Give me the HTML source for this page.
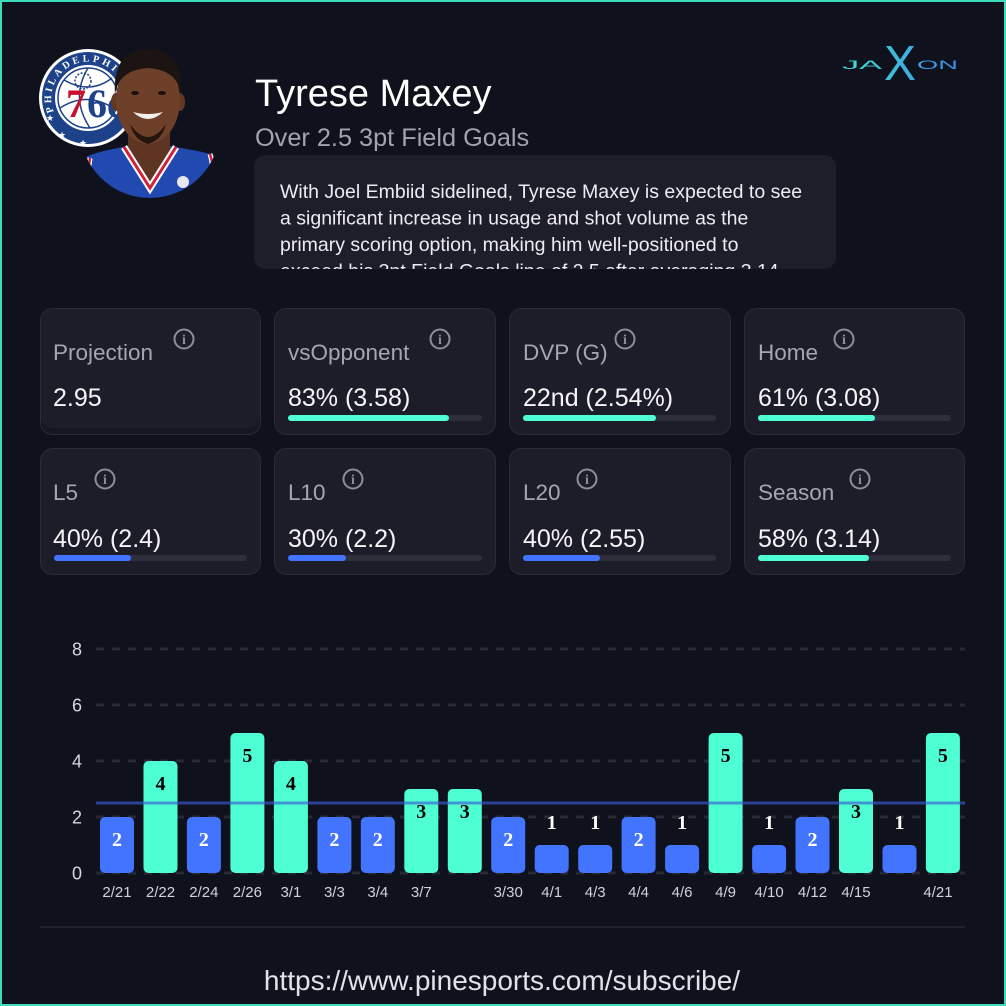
<!DOCTYPE html>
<html>
<head>
<meta charset="utf-8">
<style>
  html,body{margin:0;padding:0;background:#0f111d;}
  svg{display:block;}
  text{font-family:"Liberation Sans",Arial,sans-serif;}
  .serif text, text.serif{font-family:"Liberation Serif","Times New Roman",serif;}
</style>
</head>
<body>
<svg width="1006" height="1006" viewBox="0 0 1006 1006" xmlns="http://www.w3.org/2000/svg">
  <defs>
    <linearGradient id="jx" x1="842" y1="0" x2="960" y2="0" gradientUnits="userSpaceOnUse">
      <stop offset="0" stop-color="#42e2d2"/>
      <stop offset="1" stop-color="#3a88e8"/>
    </linearGradient>
    <clipPath id="pc"><circle cx="150" cy="128" r="70"/></clipPath>
    <clipPath id="dc"><rect x="254" y="155" width="582" height="114" rx="12"/></clipPath>
    <path id="arc" d="M 53.7,111.9 A 37,37 0 0,1 121.5,82.4"/>
  </defs>

  <!-- background + border -->
  <rect x="0" y="0" width="1006" height="1006" fill="#0f111d"/>
  <rect x="1" y="1" width="1004" height="1004" fill="none" stroke="#3fdcbc" stroke-width="2"/>

  <!-- team logo -->
  <circle cx="88" cy="98" r="49" fill="#ffffff"/>
  <circle cx="88" cy="98" r="46" fill="#1d428a"/>
  <circle cx="88" cy="98" r="33" fill="#ffffff"/>
  <circle cx="88" cy="98" r="30" fill="none" stroke="#1d428a" stroke-width="1.5"/>
  <path d="M64,80 Q90,95 112,78 M60,108 Q88,90 116,110 M88,68 Q70,98 90,128" fill="none" stroke="#1d428a" stroke-width="1.5"/>
  <circle cx="83" cy="81" r="8" fill="none" stroke="#1d428a" stroke-width="1.5" stroke-dasharray="2 1.5"/>
  <text class="serif" font-size="10" font-weight="bold" fill="#ffffff" textLength="110" lengthAdjust="spacing"><textPath href="#arc">PHILADELPHIA</textPath></text>
  <text x="46" y="121" font-size="9" fill="#fff">★</text>
  <text x="58" y="138" font-size="9" fill="#fff">★</text>
  <text x="79" y="146" font-size="9" fill="#fff">★</text>
  <text class="serif" x="66" y="117" font-size="40" font-weight="bold" fill="#c8102e">7</text>
  <text class="serif" x="87" y="117" font-size="40" font-weight="bold" fill="#1d428a">6e</text>

  <!-- player -->
  <g clip-path="url(#pc)">
    <path d="M60,230 L60,172 Q80,156 108,150 L128,146 L170,146 L192,150 Q214,153 236,166 L236,230 Z" fill="#2149b0"/>
    <path d="M128,128 L128,150 L150,186 L170,150 L170,128 Z" fill="#5e3422"/>
    <polyline points="124,147 150,188 176,147" fill="none" stroke="#ffffff" stroke-width="7"/>
    <polyline points="124,147 150,188 176,147" fill="none" stroke="#d0213a" stroke-width="3"/>
    <path d="M90,158 Q86,180 92,205" fill="none" stroke="#ffffff" stroke-width="5"/>
    <path d="M90,158 Q86,180 92,205" fill="none" stroke="#d0213a" stroke-width="2.5"/>
    <path d="M210,154 Q216,172 208,192" fill="none" stroke="#ffffff" stroke-width="5"/>
    <path d="M210,154 Q216,172 208,192" fill="none" stroke="#d0213a" stroke-width="2.5"/>
    <circle cx="183" cy="182" r="6" fill="#e8e8f0"/>
  </g>
  <ellipse cx="116" cy="102" rx="5" ry="9" fill="#643824"/>
  <ellipse cx="180" cy="102" rx="5" ry="9" fill="#643824"/>
  <ellipse cx="148" cy="100" rx="32" ry="44" fill="#6e4029"/>
  <path d="M115,95 Q112,50 148,49 Q184,50 181,95 Q178,70 148,68 Q118,70 115,95 Z" fill="#1b1412"/>
  <ellipse cx="135" cy="93" rx="4" ry="2" fill="#1a0f0a"/>
  <ellipse cx="162" cy="93" rx="4" ry="2" fill="#1a0f0a"/>
  <path d="M133,112 Q148,126 163,112 Q148,116 133,112 Z" fill="#f4f0ec"/>
  <path d="M130,124 Q148,150 166,124 Q162,140 148,144 Q134,140 130,124 Z" fill="#24160f"/>

  <!-- JAXON logo -->
  <text x="842" y="69" font-size="11.5" fill="url(#jx)" textLength="40" lengthAdjust="spacingAndGlyphs">JA</text>
  <text x="884" y="80" font-size="49" fill="url(#jx)" textLength="32" lengthAdjust="spacingAndGlyphs">X</text>
  <text x="917" y="69" font-size="11.5" fill="url(#jx)" textLength="41" lengthAdjust="spacingAndGlyphs">ON</text>

  <!-- title -->
  <text x="255" y="106" font-size="38" fill="#ffffff">Tyrese Maxey</text>
  <text x="255" y="146" font-size="25.3" fill="#a3a3ad">Over 2.5 3pt Field Goals</text>

  <!-- description -->
  <rect x="254" y="155" width="582" height="114" rx="12" fill="#1e1e2a"/>
  <g clip-path="url(#dc)" font-size="19.5" fill="#ececf2">
    <text x="280" y="198">With Joel Embiid sidelined, Tyrese Maxey is expected to see</text>
    <text x="280" y="224.5">a significant increase in usage and shot volume as the</text>
    <text x="280" y="251">primary scoring option, making him well-positioned to</text>
    <text x="280" y="277.5">exceed his 3pt Field Goals line of 2.5 after averaging 3.14</text>
  </g>

  <!-- cards row 1 -->
  <rect x="40.5" y="308.5" width="220" height="126" rx="12" fill="#161722" stroke="#2a2a38"/>
  <rect x="41" y="309" width="219" height="119" rx="11" fill="#1d1d29"/>
  <rect x="274.5" y="308.5" width="221" height="126" rx="12" fill="#1d1d29" stroke="#2a2a38"/>
  <rect x="509.5" y="308.5" width="221" height="126" rx="12" fill="#1d1d29" stroke="#2a2a38"/>
  <rect x="744.5" y="308.5" width="220" height="126" rx="12" fill="#1d1d29" stroke="#2a2a38"/>
  <!-- cards row 2 -->
  <rect x="40.5" y="448.5" width="220" height="126" rx="12" fill="#1d1d29" stroke="#2a2a38"/>
  <rect x="274.5" y="448.5" width="221" height="126" rx="12" fill="#1d1d29" stroke="#2a2a38"/>
  <rect x="509.5" y="448.5" width="221" height="126" rx="12" fill="#1d1d29" stroke="#2a2a38"/>
  <rect x="744.5" y="448.5" width="220" height="126" rx="12" fill="#1d1d29" stroke="#2a2a38"/>

  <!-- card labels -->
  <g font-size="22.5" fill="#a6a6b0">
    <text x="53" y="360">Projection</text>
    <text x="288" y="360">vsOpponent</text>
    <text x="523" y="360">DVP (G)</text>
    <text x="758" y="360">Home</text>
    <text x="53" y="500">L5</text>
    <text x="288" y="500">L10</text>
    <text x="523" y="500">L20</text>
    <text x="758" y="500">Season</text>
  </g>
  <!-- info icons -->
  <g fill="none" stroke="#8e8e98" stroke-width="2">
    <circle cx="184" cy="339" r="9.5"/>
    <circle cx="440" cy="339" r="9.5"/>
    <circle cx="625" cy="339" r="9.5"/>
    <circle cx="844" cy="339" r="9.5"/>
    <circle cx="105" cy="479" r="9.5"/>
    <circle cx="353" cy="479" r="9.5"/>
    <circle cx="587" cy="479" r="9.5"/>
    <circle cx="860" cy="479" r="9.5"/>
  </g>
  <g class="serif" font-size="14" font-weight="bold" fill="#8e8e98" text-anchor="middle">
    <text x="184" y="344">i</text>
    <text x="440" y="344">i</text>
    <text x="625" y="344">i</text>
    <text x="844" y="344">i</text>
    <text x="105" y="484">i</text>
    <text x="353" y="484">i</text>
    <text x="587" y="484">i</text>
    <text x="860" y="484">i</text>
  </g>
  <!-- values -->
  <g font-size="25" fill="#f5f5f8">
    <text x="53" y="406">2.95</text>
    <text x="288" y="406">83% (3.58)</text>
    <text x="523" y="406">22nd (2.54%)</text>
    <text x="758" y="406">61% (3.08)</text>
    <text x="53" y="547">40% (2.4)</text>
    <text x="288" y="547">30% (2.2)</text>
    <text x="523" y="547">40% (2.55)</text>
    <text x="758" y="547">58% (3.14)</text>
  </g>
  <!-- progress bars -->
  <g fill="#2e2e3c">
    <rect x="288" y="415" width="194" height="6" rx="3"/>
    <rect x="523" y="415" width="193" height="6" rx="3"/>
    <rect x="758" y="415" width="193" height="6" rx="3"/>
    <rect x="54" y="555" width="193" height="6" rx="3"/>
    <rect x="288" y="555" width="194" height="6" rx="3"/>
    <rect x="523" y="555" width="193" height="6" rx="3"/>
    <rect x="758" y="555" width="193" height="6" rx="3"/>
  </g>
  <rect x="288" y="415" width="161" height="6" rx="3" fill="#4dffd2"/>
  <rect x="523" y="415" width="133" height="6" rx="3" fill="#4dffd2"/>
  <rect x="758" y="415" width="117" height="6" rx="3" fill="#4dffd2"/>
  <rect x="54" y="555" width="77" height="6" rx="3" fill="#4274ff"/>
  <rect x="288" y="555" width="58" height="6" rx="3" fill="#4274ff"/>
  <rect x="523" y="555" width="77" height="6" rx="3" fill="#4274ff"/>
  <rect x="758" y="555" width="111" height="6" rx="3" fill="#4dffd2"/>

  <!-- chart grid -->
  <g stroke="#282935" stroke-width="3" stroke-dasharray="8 8">
    <line x1="96" y1="649" x2="965" y2="649"/>
    <line x1="96" y1="705" x2="965" y2="705"/>
    <line x1="96" y1="761" x2="965" y2="761"/>
    <line x1="96" y1="817" x2="965" y2="817"/>
    <line x1="96" y1="873" x2="965" y2="873"/>
  </g>
  <g font-size="18" fill="#d6d6de" text-anchor="end">
    <text x="82" y="655.5">8</text>
    <text x="82" y="711.5">6</text>
    <text x="82" y="767.5">4</text>
    <text x="82" y="823.5">2</text>
    <text x="82" y="879.5">0</text>
  </g>

  <!-- bars -->
  <g>
    <rect x="100" y="817" width="34" height="56" rx="5" fill="#4274ff"/>
    <rect x="143.5" y="761" width="34" height="112" rx="5" fill="#4fffd4"/>
    <rect x="186.9" y="817" width="34" height="56" rx="5" fill="#4274ff"/>
    <rect x="230.4" y="733" width="34" height="140" rx="5" fill="#4fffd4"/>
    <rect x="273.9" y="761" width="34" height="112" rx="5" fill="#4fffd4"/>
    <rect x="317.4" y="817" width="34" height="56" rx="5" fill="#4274ff"/>
    <rect x="360.8" y="817" width="34" height="56" rx="5" fill="#4274ff"/>
    <rect x="404.3" y="789" width="34" height="84" rx="5" fill="#4fffd4"/>
    <rect x="447.8" y="789" width="34" height="84" rx="5" fill="#4fffd4"/>
    <rect x="491.2" y="817" width="34" height="56" rx="5" fill="#4274ff"/>
    <rect x="534.7" y="845" width="34" height="28" rx="5" fill="#4274ff"/>
    <rect x="578.2" y="845" width="34" height="28" rx="5" fill="#4274ff"/>
    <rect x="621.6" y="817" width="34" height="56" rx="5" fill="#4274ff"/>
    <rect x="665.1" y="845" width="34" height="28" rx="5" fill="#4274ff"/>
    <rect x="708.6" y="733" width="34" height="140" rx="5" fill="#4fffd4"/>
    <rect x="752.1" y="845" width="34" height="28" rx="5" fill="#4274ff"/>
    <rect x="795.5" y="817" width="34" height="56" rx="5" fill="#4274ff"/>
    <rect x="839" y="789" width="34" height="84" rx="5" fill="#4fffd4"/>
    <rect x="882.5" y="845" width="34" height="28" rx="5" fill="#4274ff"/>
    <rect x="925.9" y="733" width="34" height="140" rx="5" fill="#4fffd4"/>
  </g>

  <!-- reference line 2.5 -->
  <line x1="96" y1="803" x2="965" y2="803" stroke="rgb(58,92,210)" stroke-opacity="0.65" stroke-width="3"/>

  <!-- bar value labels -->
  <g class="serif" font-size="20" font-weight="bold" text-anchor="middle">
    <text x="117" y="846" fill="#ffffff">2</text>
    <text x="160.5" y="790" fill="#000000">4</text>
    <text x="203.9" y="846" fill="#ffffff">2</text>
    <text x="247.4" y="762" fill="#000000">5</text>
    <text x="290.9" y="790" fill="#000000">4</text>
    <text x="334.4" y="846" fill="#ffffff">2</text>
    <text x="377.8" y="846" fill="#ffffff">2</text>
    <text x="421.3" y="818" fill="#000000">3</text>
    <text x="464.8" y="818" fill="#000000">3</text>
    <text x="508.2" y="846" fill="#ffffff">2</text>
    <text x="551.7" y="829" fill="#ffffff">1</text>
    <text x="595.2" y="829" fill="#ffffff">1</text>
    <text x="638.6" y="846" fill="#ffffff">2</text>
    <text x="682.1" y="829" fill="#ffffff">1</text>
    <text x="725.6" y="762" fill="#000000">5</text>
    <text x="769.1" y="829" fill="#ffffff">1</text>
    <text x="812.5" y="846" fill="#ffffff">2</text>
    <text x="856" y="818" fill="#000000">3</text>
    <text x="899.5" y="829" fill="#ffffff">1</text>
    <text x="942.9" y="762" fill="#000000">5</text>
  </g>

  <!-- x labels -->
  <g font-size="15" fill="#d2d2da" text-anchor="middle">
    <text x="117" y="897">2/21</text>
    <text x="160.5" y="897">2/22</text>
    <text x="203.9" y="897">2/24</text>
    <text x="247.4" y="897">2/26</text>
    <text x="290.9" y="897">3/1</text>
    <text x="334.4" y="897">3/3</text>
    <text x="377.8" y="897">3/4</text>
    <text x="421.3" y="897">3/7</text>
    <text x="508.2" y="897">3/30</text>
    <text x="551.7" y="897">4/1</text>
    <text x="595.2" y="897">4/3</text>
    <text x="638.6" y="897">4/4</text>
    <text x="682.1" y="897">4/6</text>
    <text x="725.6" y="897">4/9</text>
    <text x="769.1" y="897">4/10</text>
    <text x="812.5" y="897">4/12</text>
    <text x="856" y="897">4/15</text>
    <text x="938" y="897">4/21</text>
  </g>

  <!-- divider + footer -->
  <line x1="40" y1="927" x2="965" y2="927" stroke="#22222e" stroke-width="2"/>
  <text x="502" y="990" font-size="28" fill="#e2e2e8" text-anchor="middle">https://www.pinesports.com/subscribe/</text>
</svg>
</body>
</html>
